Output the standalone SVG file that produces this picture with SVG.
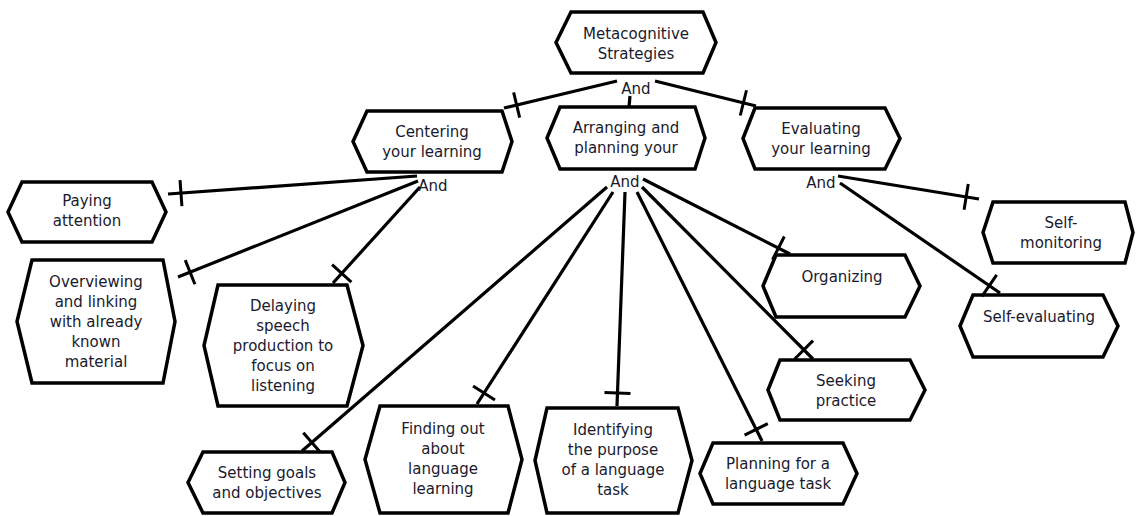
<svg xmlns="http://www.w3.org/2000/svg" width="1136" height="516" viewBox="0 0 1136 516">
  <style>
    .box { fill: #ffffff; stroke: #000000; stroke-width: 3.5; stroke-linejoin: miter; }
    .lbl { font-family: "DejaVu Sans", Verdana, sans-serif; font-size: 15px; fill: #1a1a2e; text-anchor: middle; }
    .link { stroke: #000000; stroke-width: 3.2; fill: none; marker-end: url(#one); }
    .stub { stroke: #000000; stroke-width: 3.2; fill: none; }
  </style>
  <defs>
    <!-- "one" cardinality tick, drawn across the line a little before its end -->
    <marker id="one" viewBox="-20 -16 24 32" refX="0" refY="0" markerWidth="24" markerHeight="32" markerUnits="userSpaceOnUse" orient="auto" overflow="visible">
      <path d="M-13,-13 V13" stroke="#000000" stroke-width="3"/>
    </marker>
  </defs>
  <rect width="1136" height="516" fill="#ffffff"/>

  <g id="meta">
    <path class="box" d="M556,42.5 L571,12 L703,12 L716,42.5 L703,73 L571,73 Z"/>
    <text class="lbl" x="636" y="39">Metacognitive</text>
    <text class="lbl" x="636" y="59">Strategies</text>
  </g>
  <g id="centering">
    <path class="box" d="M353,141.5 L367,111 L502,111 L512,141.5 L502,172 L367,172 Z"/>
    <text class="lbl" x="432" y="137">Centering</text>
    <text class="lbl" x="432" y="157">your learning</text>
  </g>
  <g id="arranging">
    <path class="box" d="M547,138 L560,107 L695,107 L705,138 L695,169 L560,169 Z"/>
    <text class="lbl" x="626" y="133">Arranging and</text>
    <text class="lbl" x="626" y="153">planning your</text>
  </g>
  <g id="evaluating">
    <path class="box" d="M743,138.5 L755,108 L885,108 L900,138.5 L885,169 L755,169 Z"/>
    <text class="lbl" x="821" y="134">Evaluating</text>
    <text class="lbl" x="821" y="154">your learning</text>
  </g>
  <g id="paying">
    <path class="box" d="M8,212 L22,182 L152,182 L166,212 L152,242 L22,242 Z"/>
    <text class="lbl" x="87" y="206">Paying</text>
    <text class="lbl" x="87" y="226">attention</text>
  </g>
  <g id="overviewing">
    <path class="box" d="M17,321.5 L32,260 L163,260 L175,321.5 L163,383 L32,383 Z"/>
    <text class="lbl" x="96" y="287">Overviewing</text>
    <text class="lbl" x="96" y="307">and linking</text>
    <text class="lbl" x="96" y="327">with already</text>
    <text class="lbl" x="96" y="347">known</text>
    <text class="lbl" x="96" y="367">material</text>
  </g>
  <g id="delaying">
    <path class="box" d="M204,345.5 L218,285 L347,285 L363,345.5 L347,406 L218,406 Z"/>
    <text class="lbl" x="283" y="311">Delaying</text>
    <text class="lbl" x="283" y="331">speech</text>
    <text class="lbl" x="283" y="351">production to</text>
    <text class="lbl" x="283" y="371">focus on</text>
    <text class="lbl" x="283" y="391">listening</text>
  </g>
  <g id="setting">
    <path class="box" d="M188,482.5 L203,452 L332,452 L345,482.5 L332,513 L203,513 Z"/>
    <text class="lbl" x="267" y="478">Setting goals</text>
    <text class="lbl" x="267" y="498">and objectives</text>
  </g>
  <g id="finding">
    <path class="box" d="M365,459.5 L380,406 L508,406 L522,459.5 L508,513 L380,513 Z"/>
    <text class="lbl" x="443" y="434">Finding out</text>
    <text class="lbl" x="443" y="454">about</text>
    <text class="lbl" x="443" y="474">language</text>
    <text class="lbl" x="443" y="494">learning</text>
  </g>
  <g id="identifying">
    <path class="box" d="M535,460.5 L547,408 L678,408 L692,460.5 L678,513 L547,513 Z"/>
    <text class="lbl" x="613" y="435">Identifying</text>
    <text class="lbl" x="613" y="455">the purpose</text>
    <text class="lbl" x="613" y="475">of a language</text>
    <text class="lbl" x="613" y="495">task</text>
  </g>
  <g id="planning">
    <path class="box" d="M700,473.5 L713,443 L843,443 L857,473.5 L843,504 L713,504 Z"/>
    <text class="lbl" x="778" y="469">Planning for a</text>
    <text class="lbl" x="778" y="489">language task</text>
  </g>
  <g id="seeking">
    <path class="box" d="M768,390 L780,360 L910,360 L925,390 L910,420 L780,420 Z"/>
    <text class="lbl" x="846" y="386">Seeking</text>
    <text class="lbl" x="846" y="406">practice</text>
  </g>
  <g id="organizing">
    <path class="box" d="M763,286 L776,255 L905,255 L920,286 L905,317 L776,317 Z"/>
    <text class="lbl" x="842" y="282">Organizing</text>
  </g>
  <g id="self-monitoring">
    <path class="box" d="M983,232.5 L993,202 L1125,202 L1133,232.5 L1125,263 L993,263 Z"/>
    <text class="lbl" x="1061" y="228">Self-</text>
    <text class="lbl" x="1061" y="248">monitoring</text>
  </g>
  <g id="self-evaluating">
    <path class="box" d="M960,326 L973,295 L1103,295 L1118,326 L1103,357 L973,357 Z"/>
    <text class="lbl" x="1039" y="322">Self-evaluating</text>
  </g>

  <g id="connectors">
    <!-- from Metacognitive Strategies -->
    <line class="link" x1="617" y1="81" x2="504" y2="108"/>
    <line class="link" x1="655" y1="81" x2="756" y2="106"/>
    <line class="stub" x1="630" y1="96" x2="629" y2="107"/>
    <!-- from Centering your learning -->
    <line class="link" x1="417" y1="176" x2="168" y2="194"/>
    <line class="link" x1="418" y1="181" x2="178" y2="277"/>
    <line class="link" x1="420" y1="187" x2="333" y2="283"/>
    <!-- from Arranging and planning -->
    <line class="link" x1="607" y1="187" x2="302" y2="451"/>
    <line class="link" x1="613" y1="192" x2="477" y2="404"/>
    <line class="link" x1="625" y1="192" x2="617" y2="406"/>
    <line class="link" x1="637" y1="192" x2="762" y2="441"/>
    <line class="link" x1="642" y1="187" x2="813" y2="359"/>
    <line class="link" x1="643" y1="179" x2="790" y2="254"/>
    <!-- from Evaluating your learning -->
    <line class="link" x1="838" y1="176" x2="979" y2="199"/>
    <line class="link" x1="840" y1="183" x2="1000" y2="293"/>
  </g>

  <g id="and-labels">
    <text class="lbl" x="636" y="94">And</text>
    <text class="lbl" x="433" y="191">And</text>
    <text class="lbl" x="625" y="187">And</text>
    <text class="lbl" x="821" y="188">And</text>
  </g>
</svg>
